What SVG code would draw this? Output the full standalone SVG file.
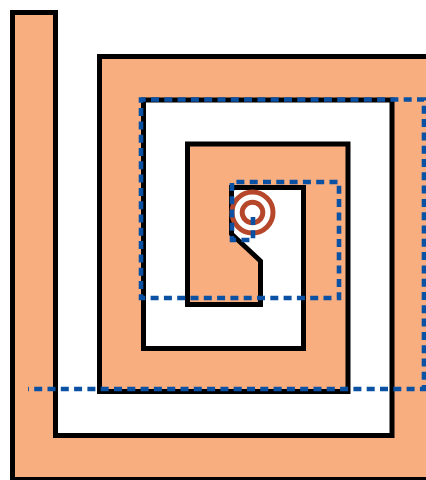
<svg xmlns="http://www.w3.org/2000/svg" width="426" height="480" viewBox="0 0 426 480">
  <style>
    .trace { fill: #f9ae80; stroke: #000; stroke-width: 5; stroke-linejoin: miter; }
    .via { fill: none; stroke: #b7472a; stroke-width: 5; }
    .under { fill: none; stroke: #0b51a3; stroke-width: 4.6; stroke-dasharray: 8 5.3; stroke-linejoin: miter; }
  </style>
  <rect width="426" height="480" fill="#fff"/>
  <g id="spiral">
    <path class="trace" d="M12.5,12.5 H55.5 V435.5 H392 V100 H143.5 V348.5 H303.5 V187.5 H231.5 V234 L260.5,261 V304.5 H187.5 V144 H348 V391.5 H99.5 V56.5 H440 V479.5 H12.5 Z"/>
  </g>
  <g id="via">
    <circle class="via" cx="252.5" cy="212.5" r="20.5"/>
    <circle class="via" cx="252.5" cy="212.5" r="10.3"/>
  </g>
  <g id="connectors">
    <path class="under" d="M253,217 V240 H232 V182 H339 V298 H141 V99.5 H424 V389 H28"/>
  </g>
</svg>
